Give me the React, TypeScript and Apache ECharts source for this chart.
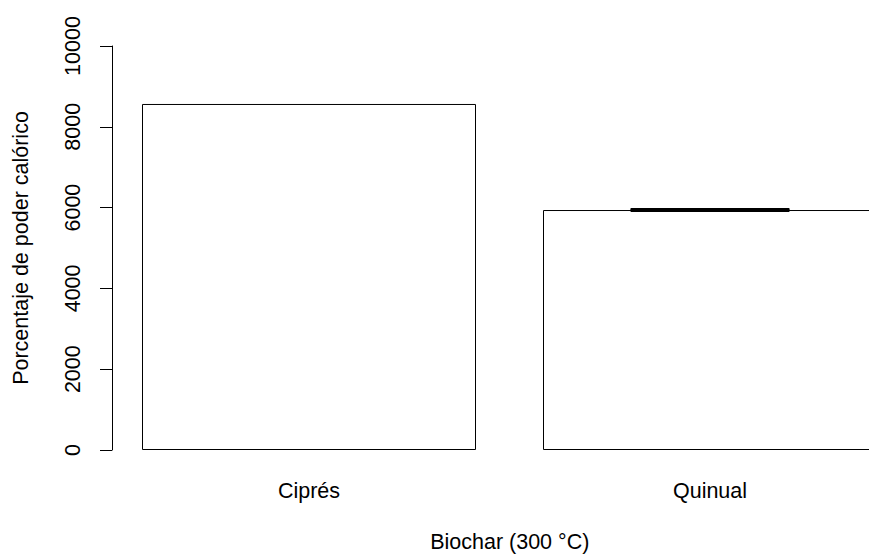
import React, { useEffect, useRef } from "react";
import * as echarts from "echarts";

const categories = ["Ciprés", "Quinual"];
const values = [8565, 5940];
const errLow: (number | null)[] = [null, 5930];
const errHigh: (number | null)[] = [null, 5950];
const yTicks = { min: 0, max: 10000, interval: 2000 };

const FONT = "'Liberation Sans', Arial, sans-serif";

export default function App() {
  const ref = useRef<HTMLDivElement>(null);
  useEffect(() => {
    document.body.style.margin = "0";
    const chart = echarts.init(ref.current!, null, { renderer: "svg" });
    const positions = categories.map((_, i) => i + 1);
    const barData = values.map((v, i) => [positions[i], v]);
    const errData = categories.map((_, i) => [positions[i], errLow[i], errHigh[i]]);
    chart.setOption({
      animation: false,
      backgroundColor: "#ffffff",
      textStyle: { fontFamily: FONT },
      grid: {
        left: 108.5,
        right: 0,
        top: 46,
        bottom: 104,
        containLabel: false,
        outerBoundsMode: "none",
      },
      xAxis: {
        type: "value",
        min: 0.5,
        max: 0.5 + (869 - 108.5) / 401,
        axisLine: { show: false },
        axisTick: { show: false },
        splitLine: { show: false },
        axisLabel: {
          fontSize: 21.5,
          color: "#000",
          margin: 30,
          fontFamily: FONT,
          customValues: positions,
          formatter: (v: number) => categories[Math.round(v) - 1] ?? "",
        },
        name: "Biochar (300 °C)",
        nameLocation: "middle",
        nameGap: 81,
        nameTextStyle: { fontSize: 21.5, color: "#000", fontFamily: FONT, padding: [0, 0, 0, 42] },
      },
      yAxis: {
        type: "value",
        min: yTicks.min,
        max: yTicks.max,
        interval: yTicks.interval,
        offset: -3.5,
        axisLine: { show: true, lineStyle: { color: "#000", width: 1 } },
        axisTick: { show: true, length: 12, lineStyle: { color: "#000", width: 1 } },
        axisLabel: {
          rotate: 90,
          fontSize: 21.5,
          color: "#000",
          margin: 28,
          fontFamily: FONT,
          formatter: (v: number) => String(v),
        },
        splitLine: { show: false },
        name: "Porcentaje de poder calórico",
        nameLocation: "middle",
        nameRotate: 90,
        nameGap: 80,
        nameTextStyle: { fontSize: 21.5, color: "#000", fontFamily: FONT },
      },
      series: [
        {
          type: "bar",
          data: barData,
          barWidth: 334,
          itemStyle: { color: "#ffffff", borderColor: "#000", borderWidth: 1 },
          silent: true,
        },
        {
          type: "custom",
          data: errData,
          renderItem: (params: any, api: any) => {
            const lo = api.value(1);
            const hi = api.value(2);
            if (lo == null || hi == null || isNaN(lo) || isNaN(hi)) return null;
            const pLo = api.coord([api.value(0), lo]);
            const pHi = api.coord([api.value(0), hi]);
            const half = api.size([1, 0])[0] * 0.198;
            const style = { stroke: "#000", lineWidth: 3 };
            return {
              type: "group",
              children: [
                { type: "line", shape: { x1: pLo[0], y1: pLo[1], x2: pHi[0], y2: pHi[1] }, style },
                { type: "line", shape: { x1: pLo[0] - half, y1: pLo[1], x2: pLo[0] + half, y2: pLo[1] }, style },
                { type: "line", shape: { x1: pHi[0] - half, y1: pHi[1], x2: pHi[0] + half, y2: pHi[1] }, style },
              ],
            };
          },
          z: 5,
        },
      ],
    });
    return () => chart.dispose();
  }, []);
  return (
    <div
      ref={ref}
      style={{ position: "fixed", left: 0, top: 0, width: 869, height: 554 }}
    />
  );
}
